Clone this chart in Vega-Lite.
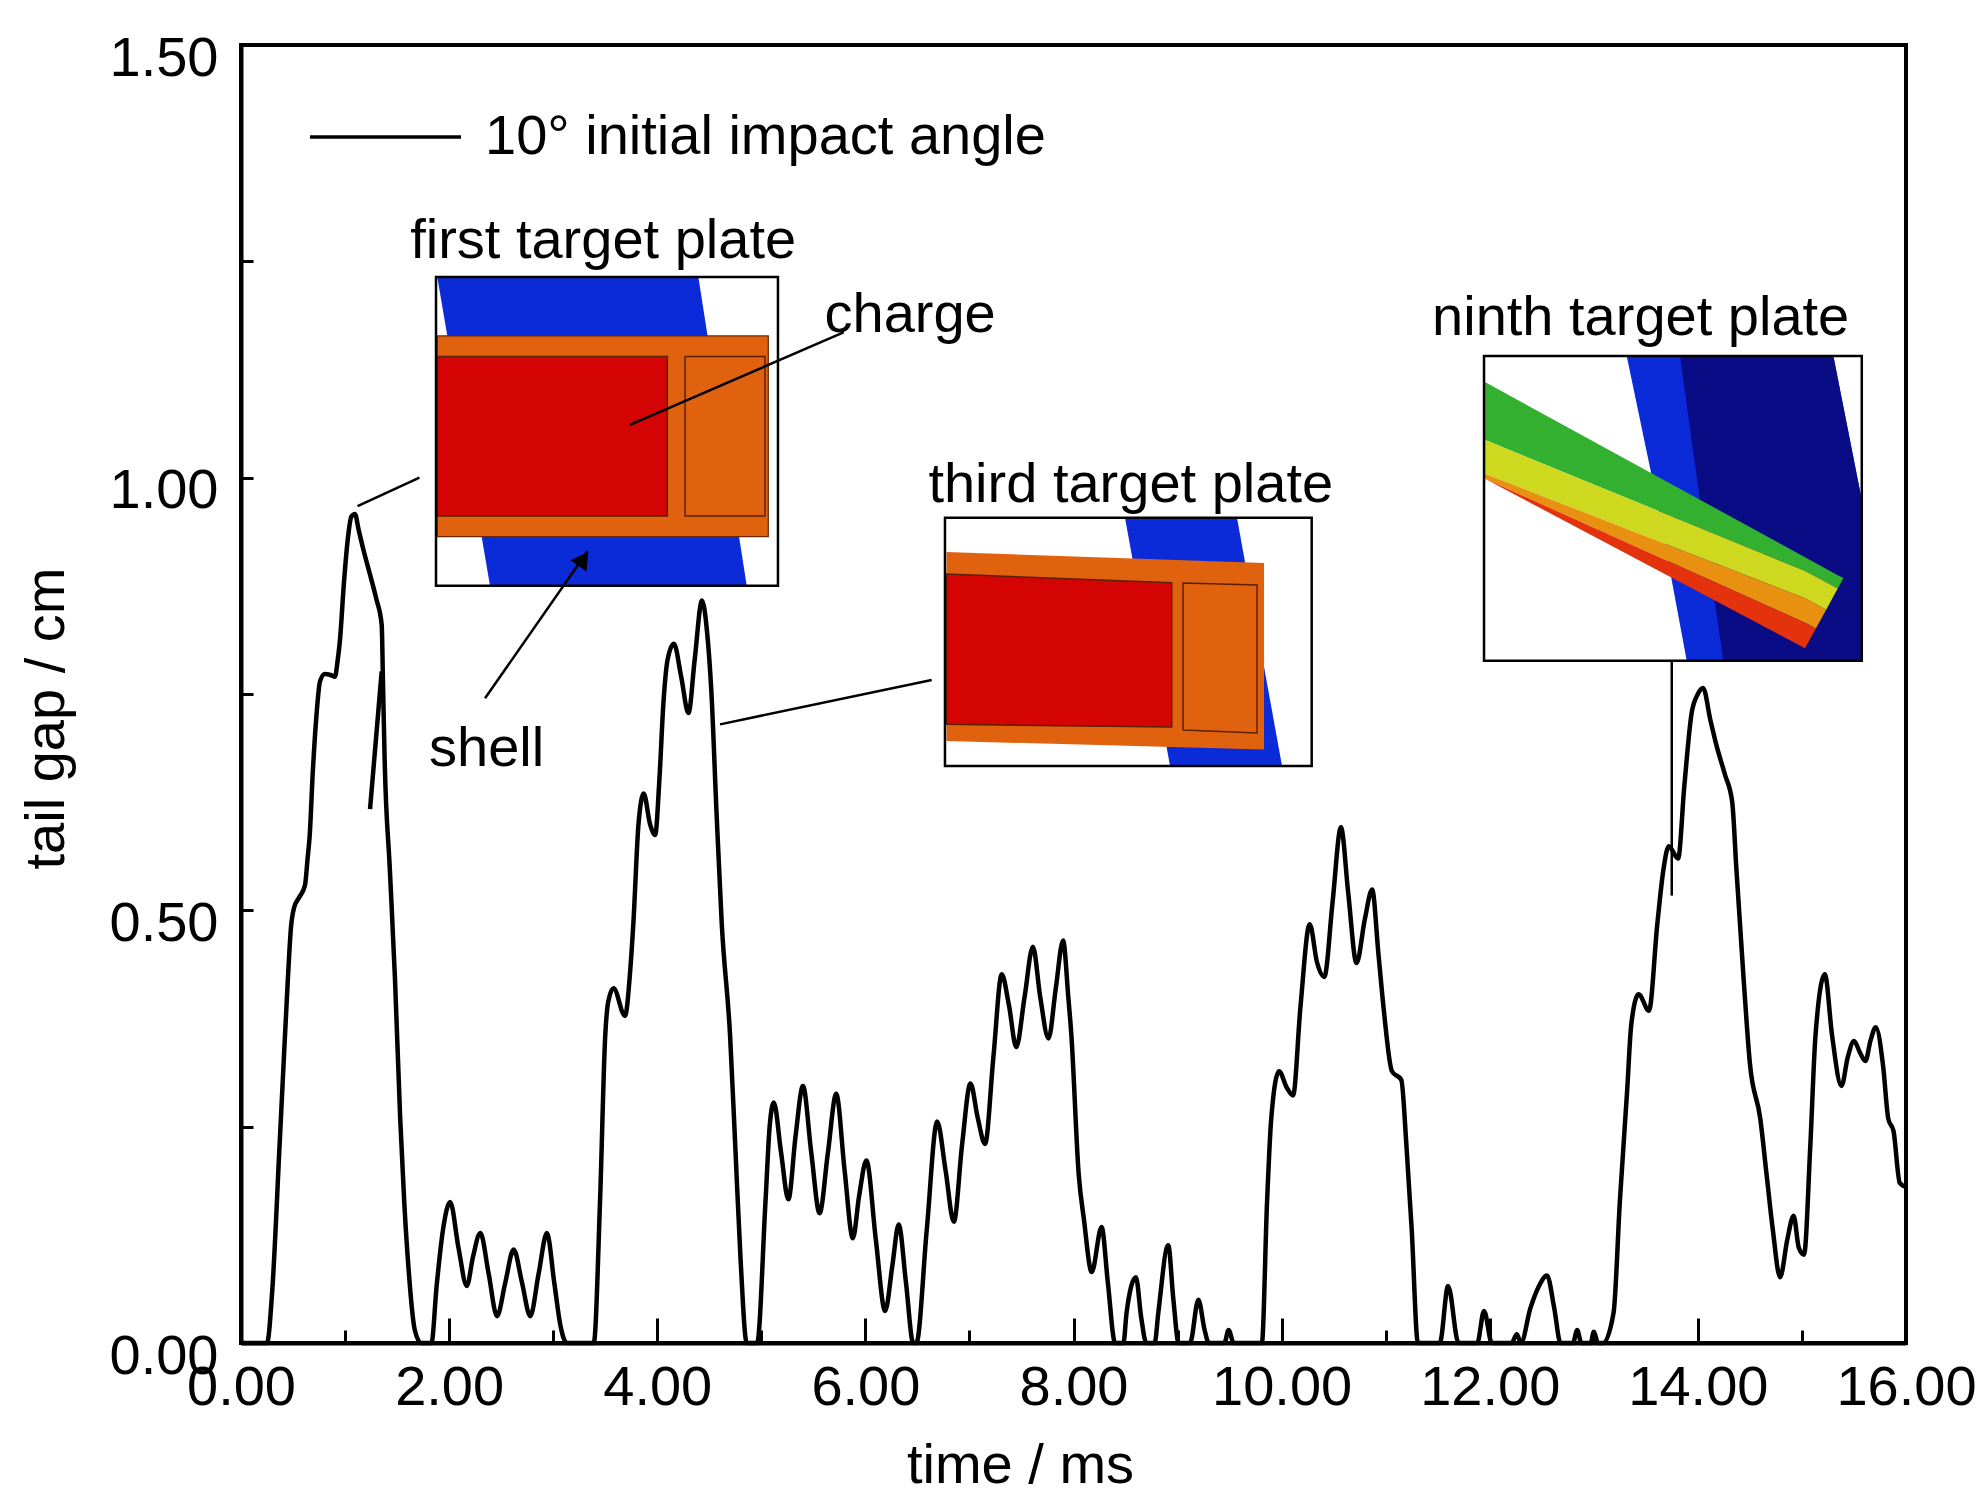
{
  "$schema": "https://vega.github.io/schema/vega-lite/v6.json",
  "width": 1665,
  "height": 1298,
  "autosize": "none",
  "padding": {"left": 241, "top": 45, "right": 78, "bottom": 169},
  "background": "white",
  "config": {
    "font": "Liberation Sans, Arial, sans-serif",
    "view": {"stroke": "#000000", "strokeWidth": 4}
  },
  "datasets": {
    "curve": [
      {"t":0,"v":0,"seg":1},{"t":0.25,"v":0,"seg":1},{"t":0.30,"v":0.06,"seg":1},{"t":0.37,"v":0.227,"seg":1},{"t":0.40,"v":0.30,"seg":1},{"t":0.45,"v":0.42,"seg":1},{"t":0.48,"v":0.48,"seg":1},{"t":0.51,"v":0.503,"seg":1},{"t":0.56,"v":0.515,"seg":1},{"t":0.615,"v":0.529,"seg":1},{"t":0.64,"v":0.56,"seg":1},{"t":0.66,"v":0.586,"seg":1},{"t":0.69,"v":0.66,"seg":1},{"t":0.727,"v":0.728,"seg":1},{"t":0.76,"v":0.765,"seg":1},{"t":0.807,"v":0.773,"seg":1},{"t":0.86,"v":0.772,"seg":1},{"t":0.903,"v":0.77,"seg":1},{"t":0.93,"v":0.79,"seg":1},{"t":0.95,"v":0.811,"seg":1},{"t":0.99,"v":0.88,"seg":1},{"t":1.03,"v":0.933,"seg":1},{"t":1.06,"v":0.955,"seg":1},{"t":1.095,"v":0.958,"seg":1},{"t":1.13,"v":0.94,"seg":1},{"t":1.18,"v":0.915,"seg":1},{"t":1.24,"v":0.888,"seg":1},{"t":1.30,"v":0.86,"seg":1},{"t":1.352,"v":0.83,"seg":1},{"t":1.365,"v":0.76,"seg":1},{"t":1.38,"v":0.676,"seg":1},{"t":1.43,"v":0.548,"seg":1},{"t":1.48,"v":0.42,"seg":1},{"t":1.53,"v":0.259,"seg":1},{"t":1.57,"v":0.16,"seg":1},{"t":1.61,"v":0.086,"seg":1},{"t":1.67,"v":0.015,"seg":1},{"t":1.73,"v":0,"seg":1},{"t":1.83,"v":0,"seg":1},
      {"t":1.88,"v":0.066,"seg":1},{"t":1.94,"v":0.13,"seg":1},{"t":2.01,"v":0.163,"seg":1},{"t":2.09,"v":0.11,"seg":1},{"t":2.17,"v":0.066,"seg":1},{"t":2.23,"v":0.10,"seg":1},{"t":2.30,"v":0.127,"seg":1},{"t":2.38,"v":0.08,"seg":1},{"t":2.46,"v":0.031,"seg":1},{"t":2.54,"v":0.07,"seg":1},{"t":2.62,"v":0.108,"seg":1},{"t":2.70,"v":0.07,"seg":1},{"t":2.78,"v":0.031,"seg":1},{"t":2.86,"v":0.08,"seg":1},{"t":2.94,"v":0.127,"seg":1},{"t":3.01,"v":0.07,"seg":1},{"t":3.07,"v":0.02,"seg":1},{"t":3.13,"v":0,"seg":1},{"t":3.39,"v":0,"seg":1},
      {"t":3.45,"v":0.163,"seg":1},{"t":3.50,"v":0.355,"seg":1},{"t":3.53,"v":0.395,"seg":1},{"t":3.58,"v":0.41,"seg":1},{"t":3.69,"v":0.378,"seg":1},{"t":3.74,"v":0.43,"seg":1},{"t":3.77,"v":0.484,"seg":1},{"t":3.82,"v":0.60,"seg":1},{"t":3.87,"v":0.635,"seg":1},{"t":3.93,"v":0.60,"seg":1},{"t":3.98,"v":0.587,"seg":1},{"t":4.02,"v":0.65,"seg":1},{"t":4.06,"v":0.741,"seg":1},{"t":4.10,"v":0.79,"seg":1},{"t":4.16,"v":0.808,"seg":1},{"t":4.23,"v":0.77,"seg":1},{"t":4.30,"v":0.728,"seg":1},{"t":4.36,"v":0.79,"seg":1},{"t":4.43,"v":0.858,"seg":1},{"t":4.48,"v":0.82,"seg":1},{"t":4.52,"v":0.753,"seg":1},{"t":4.57,"v":0.612,"seg":1},{"t":4.62,"v":0.484,"seg":1},{"t":4.70,"v":0.355,"seg":1},{"t":4.75,"v":0.227,"seg":1},{"t":4.80,"v":0.098,"seg":1},{"t":4.86,"v":0,"seg":1},{"t":4.96,"v":0,"seg":1},
      {"t":5.04,"v":0.163,"seg":1},{"t":5.08,"v":0.25,"seg":1},{"t":5.12,"v":0.278,"seg":1},{"t":5.19,"v":0.22,"seg":1},{"t":5.26,"v":0.166,"seg":1},{"t":5.33,"v":0.24,"seg":1},{"t":5.40,"v":0.297,"seg":1},{"t":5.48,"v":0.22,"seg":1},{"t":5.56,"v":0.150,"seg":1},{"t":5.64,"v":0.22,"seg":1},{"t":5.72,"v":0.288,"seg":1},{"t":5.80,"v":0.2,"seg":1},{"t":5.88,"v":0.121,"seg":1},{"t":5.94,"v":0.17,"seg":1},{"t":6.01,"v":0.211,"seg":1},{"t":6.10,"v":0.12,"seg":1},{"t":6.19,"v":0.037,"seg":1},{"t":6.26,"v":0.09,"seg":1},{"t":6.32,"v":0.137,"seg":1},{"t":6.39,"v":0.07,"seg":1},{"t":6.46,"v":0,"seg":1},{"t":6.49,"v":0,"seg":1},
      {"t":6.59,"v":0.131,"seg":1},{"t":6.69,"v":0.256,"seg":1},{"t":6.77,"v":0.2,"seg":1},{"t":6.85,"v":0.14,"seg":1},{"t":6.93,"v":0.23,"seg":1},{"t":7.01,"v":0.30,"seg":1},{"t":7.08,"v":0.26,"seg":1},{"t":7.15,"v":0.23,"seg":1},{"t":7.23,"v":0.33,"seg":1},{"t":7.31,"v":0.426,"seg":1},{"t":7.38,"v":0.39,"seg":1},{"t":7.45,"v":0.342,"seg":1},{"t":7.53,"v":0.40,"seg":1},{"t":7.61,"v":0.458,"seg":1},{"t":7.68,"v":0.40,"seg":1},{"t":7.76,"v":0.352,"seg":1},{"t":7.83,"v":0.41,"seg":1},{"t":7.90,"v":0.465,"seg":1},{"t":7.95,"v":0.40,"seg":1},{"t":7.98,"v":0.355,"seg":1},{"t":8.05,"v":0.195,"seg":1},{"t":8.10,"v":0.143,"seg":1},{"t":8.175,"v":0.082,"seg":1},{"t":8.27,"v":0.134,"seg":1},{"t":8.33,"v":0.07,"seg":1},{"t":8.40,"v":0,"seg":1},{"t":8.48,"v":0,"seg":1},
      {"t":8.51,"v":0.035,"seg":1},{"t":8.60,"v":0.076,"seg":1},{"t":8.65,"v":0.03,"seg":1},{"t":8.70,"v":0,"seg":1},{"t":8.78,"v":0,"seg":1},{"t":8.815,"v":0.035,"seg":1},{"t":8.91,"v":0.113,"seg":1},{"t":8.96,"v":0.05,"seg":1},{"t":9.01,"v":0,"seg":1},{"t":9.12,"v":0,"seg":1},{"t":9.20,"v":0.05,"seg":1},{"t":9.26,"v":0.015,"seg":1},{"t":9.30,"v":0,"seg":1},{"t":9.45,"v":0,"seg":1},{"t":9.49,"v":0.015,"seg":1},{"t":9.54,"v":0,"seg":1},{"t":9.81,"v":0,"seg":1},
      {"t":9.86,"v":0.163,"seg":1},{"t":9.90,"v":0.259,"seg":1},{"t":9.975,"v":0.314,"seg":1},{"t":10.05,"v":0.295,"seg":1},{"t":10.11,"v":0.286,"seg":1},{"t":10.18,"v":0.387,"seg":1},{"t":10.27,"v":0.484,"seg":1},{"t":10.34,"v":0.44,"seg":1},{"t":10.41,"v":0.423,"seg":1},{"t":10.49,"v":0.51,"seg":1},{"t":10.57,"v":0.596,"seg":1},{"t":10.64,"v":0.52,"seg":1},{"t":10.72,"v":0.439,"seg":1},{"t":10.80,"v":0.49,"seg":1},{"t":10.87,"v":0.524,"seg":1},{"t":10.93,"v":0.45,"seg":1},{"t":10.98,"v":0.387,"seg":1},{"t":11.06,"v":0.314,"seg":1},{"t":11.15,"v":0.304,"seg":1},{"t":11.20,"v":0.227,"seg":1},{"t":11.25,"v":0.131,"seg":1},{"t":11.31,"v":0,"seg":1},{"t":11.52,"v":0,"seg":1},
      {"t":11.60,"v":0.066,"seg":1},{"t":11.70,"v":0,"seg":1},{"t":11.88,"v":0,"seg":1},{"t":11.945,"v":0.037,"seg":1},{"t":12.02,"v":0,"seg":1},{"t":12.21,"v":0,"seg":1},{"t":12.26,"v":0.01,"seg":1},{"t":12.30,"v":0,"seg":1},{"t":12.39,"v":0.04,"seg":1},{"t":12.47,"v":0.065,"seg":1},{"t":12.55,"v":0.078,"seg":1},{"t":12.62,"v":0.04,"seg":1},{"t":12.68,"v":0,"seg":1},{"t":12.80,"v":0,"seg":1},{"t":12.84,"v":0.015,"seg":1},{"t":12.88,"v":0,"seg":1},{"t":12.97,"v":0,"seg":1},{"t":13.0,"v":0.013,"seg":1},{"t":13.04,"v":0,"seg":1},{"t":13.09,"v":0,"seg":1},
      {"t":13.19,"v":0.035,"seg":1},{"t":13.25,"v":0.163,"seg":1},{"t":13.32,"v":0.291,"seg":1},{"t":13.36,"v":0.368,"seg":1},{"t":13.43,"v":0.403,"seg":1},{"t":13.53,"v":0.384,"seg":1},{"t":13.61,"v":0.484,"seg":1},{"t":13.67,"v":0.548,"seg":1},{"t":13.72,"v":0.574,"seg":1},{"t":13.81,"v":0.56,"seg":1},{"t":13.87,"v":0.644,"seg":1},{"t":13.94,"v":0.728,"seg":1},{"t":14.00,"v":0.75,"seg":1},{"t":14.05,"v":0.757,"seg":1},{"t":14.12,"v":0.72,"seg":1},{"t":14.18,"v":0.69,"seg":1},{"t":14.26,"v":0.657,"seg":1},{"t":14.33,"v":0.625,"seg":1},{"t":14.37,"v":0.548,"seg":1},{"t":14.44,"v":0.42,"seg":1},{"t":14.50,"v":0.323,"seg":1},{"t":14.60,"v":0.259,"seg":1},{"t":14.66,"v":0.195,"seg":1},{"t":14.72,"v":0.131,"seg":1},{"t":14.79,"v":0.076,"seg":1},{"t":14.86,"v":0.12,"seg":1},{"t":14.92,"v":0.147,"seg":1},{"t":14.97,"v":0.11,"seg":1},{"t":15.02,"v":0.102,"seg":1},{"t":15.08,"v":0.227,"seg":1},{"t":15.13,"v":0.355,"seg":1},{"t":15.22,"v":0.426,"seg":1},{"t":15.29,"v":0.355,"seg":1},{"t":15.38,"v":0.297,"seg":1},{"t":15.44,"v":0.33,"seg":1},{"t":15.50,"v":0.349,"seg":1},{"t":15.56,"v":0.335,"seg":1},{"t":15.61,"v":0.326,"seg":1},{"t":15.66,"v":0.35,"seg":1},{"t":15.71,"v":0.365,"seg":1},{"t":15.78,"v":0.32,"seg":1},{"t":15.83,"v":0.259,"seg":1},{"t":15.88,"v":0.245,"seg":1},{"t":15.94,"v":0.185,"seg":1},{"t":16.0,"v":0.18,"seg":1},
      {"t":1.24,"v":0.617,"seg":2},{"t":1.352,"v":0.776,"seg":2}
    ],
    "boxes": [
      {"id":"f1","mat":"frame","t":1.874,"t2":5.16,"v":0.875,"v2":1.232},
      {"id":"f2","mat":"frame","t":6.765,"t2":10.289,"v":0.6668,"v2":0.9537},
      {"id":"f3","mat":"frame","t":11.945,"t2":15.575,"v":0.7885,"v2":1.1406},
      {"id":"shell1","mat":"shell","t":1.886,"t2":5.067,"v":0.9318,"v2":1.1638},
      {"id":"charge1","mat":"charge","t":1.886,"t2":4.097,"v":0.9558,"v2":1.1399},
      {"id":"rear1","mat":"shell","t":4.267,"t2":5.035,"v":0.9558,"v2":1.1399}
    ],
    "plates": [
      {"id":"p1","mat":"plate","v":1.232,"t":1.886,"t2":4.395},
      {"id":"p1","mat":"plate","v":0.875,"t":2.393,"t2":4.86},
      {"id":"p2","mat":"plate","v":0.9537,"t":8.495,"t2":9.571},
      {"id":"p2","mat":"plate","v":0.6668,"t":8.928,"t2":10.004},
      {"id":"p3","mat":"plate","v":1.1406,"t":13.316,"t2":15.302},
      {"id":"p3","mat":"plate","v":0.9742,"t":13.605,"t2":15.575},
      {"id":"p3","mat":"plate","v":0.7885,"t":13.893,"t2":15.575},
      {"id":"n3","mat":"navy","v":1.1406,"t":13.828,"t2":15.302},
      {"id":"n3","mat":"navy","v":0.9742,"t":14.02,"t2":15.575},
      {"id":"n3","mat":"navy","v":0.7885,"t":14.245,"t2":15.575}
    ],
    "bands": [
      {"id":"shell2","mat":"shell","t":6.78,"v":0.6957,"v2":0.9141},
      {"id":"shell2","mat":"shell","t":9.831,"v":0.6860,"v2":0.9014},
      {"id":"charge2","mat":"charge","t":6.78,"v":0.7149,"v2":0.8887},
      {"id":"charge2","mat":"charge","t":8.944,"v":0.7119,"v2":0.8785},
      {"id":"rear2","mat":"shell","t":9.053,"v":0.7084,"v2":0.8783},
      {"id":"rear2","mat":"shell","t":9.764,"v":0.705,"v2":0.876},
      {"id":"g3","mat":"green","t":11.945,"v":1.044,"v2":1.111},
      {"id":"g3","mat":"green","t":15.03,"v":0.8922,"v2":0.908},
      {"id":"g3","mat":"green","t":15.344,"v":0.8718,"v2":0.8873},
      {"id":"g3","mat":"green","t":15.399,"v":0.884,"v2":0.884},
      {"id":"y3","mat":"yellow","t":11.945,"v":1.0049,"v2":1.044},
      {"id":"y3","mat":"yellow","t":15.03,"v":0.8607,"v2":0.8922},
      {"id":"y3","mat":"yellow","t":15.233,"v":0.8475,"v2":0.879},
      {"id":"y3","mat":"yellow","t":15.344,"v":0.8718,"v2":0.8718},
      {"id":"o3","mat":"orange","t":11.945,"v":0.9993,"v2":1.0049},
      {"id":"o3","mat":"orange","t":15.03,"v":0.8323,"v2":0.8607},
      {"id":"o3","mat":"orange","t":15.134,"v":0.8256,"v2":0.8539},
      {"id":"o3","mat":"orange","t":15.233,"v":0.8475,"v2":0.8475},
      {"id":"r3","mat":"red","t":11.945,"v":0.9993,"v2":0.9993},
      {"id":"r3","mat":"red","t":15.03,"v":0.8028,"v2":0.8323},
      {"id":"r3","mat":"red","t":15.134,"v":0.8256,"v2":0.8256}
    ],
    "pointers": [
      {"t":1.12,"v":0.967,"t2":1.715,"v2":1.0},
      {"t":3.738,"v":1.061,"t2":5.79,"v2":1.168},
      {"t":2.345,"v":0.745,"t2":3.33,"v2":0.915},
      {"t":4.603,"v":0.7149,"t2":6.637,"v2":0.7662},
      {"t":13.749,"v":0.517,"t2":13.749,"v2":0.7885}
    ],
    "arrowheads": [
      {"t":3.29,"v":0.906}
    ],
    "labels": [
      {"t":3.48,"v":1.254,"label":"first target plate"},
      {"t":6.43,"v":1.168,"label":"charge"},
      {"t":2.36,"v":0.667,"label":"shell"},
      {"t":8.55,"v":0.972,"label":"third target plate"},
      {"t":13.45,"v":1.165,"label":"ninth target plate"}
    ]
  },
  "encoding": {
    "x": {"field": "t", "type": "quantitative",
          "scale": {"domain": [0, 16], "nice": false, "zero": false},
          "axis": {"values": [0,1,2,3,4,5,6,7,8,9,10,11,12,13,14,15,16],
                   "labelExpr": "datum.value % 2 === 0 ? format(datum.value, '.2f') : ''",
                   "labelFontSize": 56, "labelColor": "#000", "labelPadding": 42,
                   "labelOverlap": false, "labelFlush": false,
                   "ticks": true, "tickColor": "#000", "tickWidth": 3,
                   "tickSize": {"condition": {"test": "datum.value % 2 === 0", "value": -25}, "value": -13},
                   "domain": true, "domainColor": "#000", "domainWidth": 4, "grid": false,
                   "title": "time / ms", "titleFontSize": 56, "titleFontWeight": "normal", "titleColor": "#000",
                   "titleX": 779, "titleY": 139, "titleBaseline": "alphabetic", "titleAlign": "center"}},
    "y": {"field": "v", "type": "quantitative",
          "scale": {"domain": [0, 1.5], "nice": false, "zero": false},
          "axis": {"values": [0,0.25,0.5,0.75,1,1.25,1.5],
                   "labelExpr": "(datum.value * 4) % 2 === 0 ? format(datum.value, '.2f') : ''",
                   "labelFontSize": 56, "labelColor": "#000", "labelPadding": 35, "labelOffset": 13,
                   "labelOverlap": false, "labelFlush": false, "labelBaseline": "middle",
                   "ticks": true, "tickColor": "#000", "tickWidth": 3, "tickSize": -12,
                   "domain": true, "domainColor": "#000", "domainWidth": 4, "grid": false,
                   "title": "tail gap / cm", "titleFontSize": 56, "titleFontWeight": "normal", "titleColor": "#000",
                   "titleAngle": 270, "titleX": -178, "titleY": 673, "titleBaseline": "alphabetic", "titleAlign": "center"}}
  },
  "layer": [
    {
      "data": {"name": "curve"},
      "mark": {"type": "line", "interpolate": "monotone", "strokeWidth": 4.5},
      "encoding": {
        "detail": {"field": "seg", "type": "nominal"},
        "stroke": {"datum": "10° initial impact angle", "type": "nominal",
                   "scale": {"range": ["#000000"]},
                   "legend": {"orient": "none", "legendX": 67, "legendY": 14.5, "title": null,
                              "symbolType": "stroke", "symbolSize": 22801, "symbolStrokeWidth": 3.5,
                              "labelFontSize": 56, "labelColor": "#000", "labelOffset": 22, "labelLimit": 0,
                              "padding": 0}}
      }
    },
    {
      "data": {"name": "boxes"},
      "transform": [{"filter": "datum.mat === 'frame'"}],
      "mark": {"type": "rect", "color": "white"},
      "encoding": {"x2": {"field": "t2"}, "y2": {"field": "v2"}}
    },
    {
      "data": {"name": "plates"},
      "transform": [{"filter": "datum.mat === 'plate'"}],
      "mark": {"type": "area", "orient": "horizontal"},
      "encoding": {
        "x2": {"field": "t2"},
        "detail": {"field": "id", "type": "nominal"},
        "fill": {"field": "mat", "type": "nominal", "legend": null,
                 "scale": {"domain": ["plate","navy","shell","charge","green","yellow","orange","red"],
                           "range": ["#0b2ad8","#0a0c86","#e0620e","#d40404","#34b030","#cdd81e","#e8900f","#e3320c"]}}
      }
    },
    {
      "data": {"name": "plates"},
      "transform": [{"filter": "datum.mat === 'navy'"}],
      "mark": {"type": "area", "orient": "horizontal"},
      "encoding": {
        "x2": {"field": "t2"},
        "detail": {"field": "id", "type": "nominal"},
        "fill": {"field": "mat", "type": "nominal", "legend": null}
      }
    },
    {
      "data": {"name": "boxes"},
      "transform": [{"filter": "datum.id === 'shell1'"}],
      "mark": {"type": "rect", "stroke": "#6a2800", "strokeWidth": 1.2},
      "encoding": {
        "x2": {"field": "t2"}, "y2": {"field": "v2"},
        "fill": {"field": "mat", "type": "nominal", "legend": null}
      }
    },
    {
      "data": {"name": "bands"},
      "transform": [{"filter": "datum.id !== 'charge2' && datum.id !== 'rear2'"}],
      "mark": {"type": "area", "orient": "vertical"},
      "encoding": {
        "y2": {"field": "v2"},
        "detail": {"field": "id", "type": "nominal"},
        "fill": {"field": "mat", "type": "nominal", "legend": null}
      }
    },
    {
      "data": {"name": "boxes"},
      "transform": [{"filter": "datum.id === 'charge1' || datum.id === 'rear1'"}],
      "mark": {"type": "rect", "stroke": "#5a2000", "strokeWidth": 1.5},
      "encoding": {
        "x2": {"field": "t2"}, "y2": {"field": "v2"},
        "fill": {"field": "mat", "type": "nominal", "legend": null}
      }
    },
    {
      "data": {"name": "bands"},
      "transform": [{"filter": "datum.id === 'charge2' || datum.id === 'rear2'"}],
      "mark": {"type": "area", "orient": "vertical", "stroke": "#5a2000", "strokeWidth": 1.5},
      "encoding": {
        "y2": {"field": "v2"},
        "detail": {"field": "id", "type": "nominal"},
        "fill": {"field": "mat", "type": "nominal", "legend": null}
      }
    },
    {
      "data": {"name": "boxes"},
      "transform": [{"filter": "datum.mat === 'frame'"}],
      "mark": {"type": "rect", "filled": false, "stroke": "#000", "strokeWidth": 2.5},
      "encoding": {"x2": {"field": "t2"}, "y2": {"field": "v2"}}
    },
    {
      "data": {"name": "pointers"},
      "mark": {"type": "rule", "color": "#000", "strokeWidth": 2.5},
      "encoding": {"x2": {"field": "t2"}, "y2": {"field": "v2"}}
    },
    {
      "data": {"name": "arrowheads"},
      "mark": {"type": "point", "shape": "triangle-up", "filled": true, "color": "#000", "size": 380, "angle": 35, "opacity": 1},
      "encoding": {}
    },
    {
      "data": {"name": "labels"},
      "mark": {"type": "text", "fontSize": 56, "color": "#000", "align": "center", "baseline": "alphabetic"},
      "encoding": {"text": {"field": "label", "type": "nominal"}}
    }
  ]
}
